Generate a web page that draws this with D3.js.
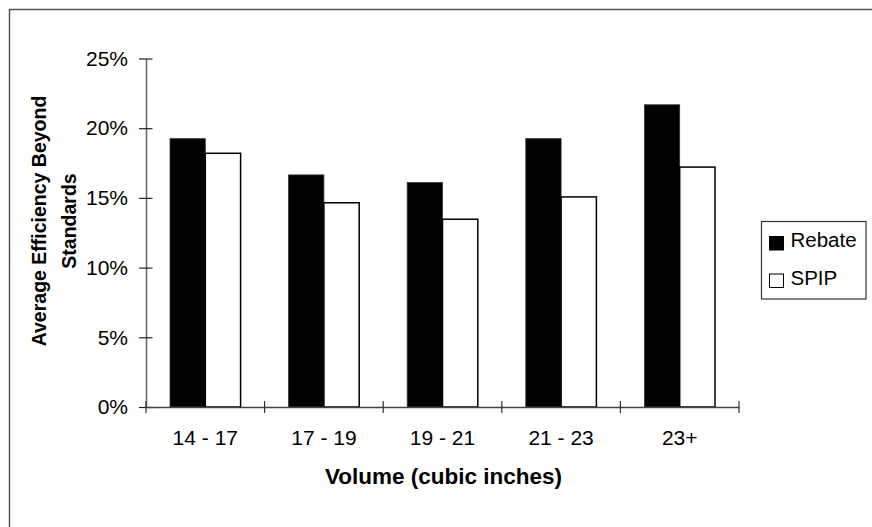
<!DOCTYPE html>
<html>
<head>
<meta charset="utf-8">
<script src="https://cdn.jsdelivr.net/npm/d3@7"></script>
<style>
  html, body { margin: 0; padding: 0; background: #fff; }
  svg { display: block; }
  text { font-family: "Liberation Sans", Arial, sans-serif; fill: #000; }
</style>
</head>
<body>
<svg id="chart" width="872" height="527"></svg>
<script>
// Volume classes (cubic inches)
const categories = ["14 - 17", "17 - 19", "19 - 21", "21 - 23", "23+"];
const seriesNames = ["Rebate", "SPIP"];
// Average efficiency beyond standards, as fractions
const rebateValues = [0.1925, 0.1665, 0.1610, 0.1925, 0.2168];
const spipValues   = [0.1820, 0.1465, 0.1347, 0.1507, 0.1721];
const yTickValues  = [0, 0.05, 0.10, 0.15, 0.20, 0.25];

const seriesValues = { Rebate: rebateValues, SPIP: spipValues };
const seriesFill = { Rebate: "#000", SPIP: "#fff" };

const svg = d3.select("#chart");

// outer frame
svg.append("rect")
  .attr("x", 9.5).attr("y", 9.5)
  .attr("width", 900).attr("height", 600)
  .attr("fill", "none").attr("stroke", "#555").attr("stroke-width", 1.5);

const plot = { left: 146, right: 739, top: 58.5, bottom: 407 };

const x0 = d3.scaleBand().domain(categories).range([plot.left, plot.right]);
const x1 = d3.scaleBand().domain(seriesNames)
  .range([0, x0.bandwidth()]).paddingOuter(0.68);
const y = d3.scaleLinear().domain([0, 0.25]).range([plot.bottom, plot.top]);

// bars
const groups = svg.append("g").selectAll("g")
  .data(categories)
  .join("g")
  .attr("transform", d => `translate(${x0(d)},0)`);

groups.selectAll("rect")
  .data((c, i) => seriesNames.map(s => ({ s, v: seriesValues[s][i] })))
  .join("rect")
  .attr("x", d => x1(d.s))
  .attr("y", d => y(d.v))
  .attr("width", x1.bandwidth())
  .attr("height", d => y(0) - y(d.v))
  .attr("fill", d => seriesFill[d.s])
  .attr("stroke", d => d.s === "SPIP" ? "#000" : "#333")
  .attr("stroke-width", d => d.s === "SPIP" ? 1.5 : 0.8);

// y axis
const yAxis = svg.append("g")
  .attr("transform", `translate(${plot.left},0)`)
  .call(d3.axisLeft(y).tickValues(yTickValues)
    .tickFormat(d3.format(".0%")).tickSizeInner(7).tickSizeOuter(0).tickPadding(11));
yAxis.select(".domain").attr("stroke", "#666").attr("stroke-width", 1.5);
yAxis.selectAll(".tick line").attr("stroke", "#222").attr("x2", 6.5).attr("x1", -7).attr("stroke-width", 1.2);
yAxis.selectAll(".tick text")
  .attr("font-size", "21px").attr("font-family", "Liberation Sans, Arial, sans-serif").attr("fill", "#000");

// x axis
const xAxis = svg.append("g")
  .attr("transform", `translate(0,${plot.bottom})`)
  .call(d3.axisBottom(x0).tickSize(0).tickSizeOuter(0).tickPadding(30));
xAxis.select(".domain").attr("stroke", "#444").attr("stroke-width", 1.5);
xAxis.selectAll(".tick text")
  .attr("font-size", "21px").attr("font-family", "Liberation Sans, Arial, sans-serif").attr("fill", "#000")
  .attr("dy", 0).attr("y", 38);

// category separator ticks on the x axis
const sepPositions = categories.map(c => x0(c)).concat([plot.right]);
svg.append("g").selectAll("line")
  .data(sepPositions)
  .join("line")
  .attr("x1", d => d).attr("x2", d => d)
  .attr("y1", plot.bottom - 6).attr("y2", plot.bottom + 6)
  .attr("stroke", "#333").attr("stroke-width", 1.2);

// axis titles
svg.append("text")
  .attr("x", (plot.left + plot.right) / 2 + 1).attr("y", 484)
  .attr("text-anchor", "middle")
  .attr("font-weight", "bold").attr("font-size", "22.5px")
  .text("Volume (cubic inches)");

const yTitle = svg.append("text")
  .attr("transform", "translate(0,221) rotate(-90)")
  .attr("text-anchor", "middle")
  .attr("font-weight", "bold").attr("font-size", "19.5px");
yTitle.append("tspan").attr("x", 0).attr("y", 46).text("Average Efficiency Beyond");
yTitle.append("tspan").attr("x", 0).attr("y", 76).text("Standards");

// legend
const legend = svg.append("g");
legend.append("rect")
  .attr("x", 761.5).attr("y", 221.5).attr("width", 104.5).attr("height", 77.5)
  .attr("fill", "#fff").attr("stroke", "#333").attr("stroke-width", 1.2);
const legendRows = legend.selectAll("g.row")
  .data(seriesNames)
  .join("g")
  .attr("class", "row")
  .attr("transform", (d, i) => `translate(769.5,${236.5 + i * 37.5})`);
legendRows.append("rect")
  .attr("width", 14).attr("height", 13.5)
  .attr("fill", d => seriesFill[d])
  .attr("stroke", "#000").attr("stroke-width", 1);
legendRows.append("text")
  .attr("x", 21).attr("y", 10.5)
  .attr("font-size", "20.5px")
  .text(d => d);
</script>
</body>
</html>
